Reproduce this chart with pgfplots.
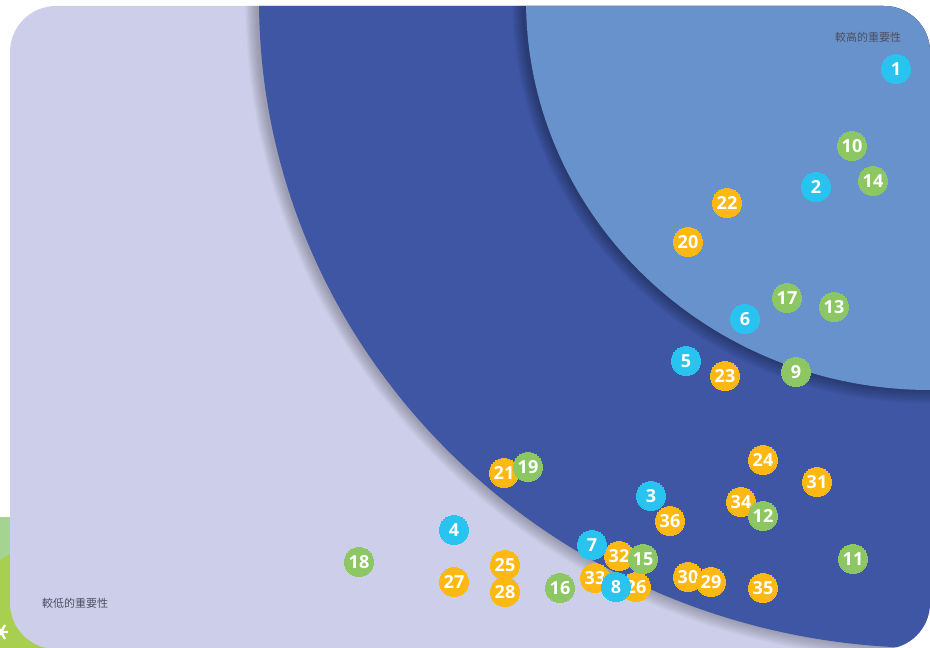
\documentclass[border=0pt]{standalone}
\usepackage{pgfplots}
\pgfplotsset{compat=1.18}
\usepackage{fontspec}
\setmainfont{Open Sans}
\newfontfamily\cjk{Noto Sans CJK TC}
\newfontfamily\numfam{Open Sans}

\definecolor{lav}{HTML}{CDCEE9}
\definecolor{darkblue}{HTML}{3E56A4}
\definecolor{lightblue}{HTML}{6892CB}
\definecolor{cyanpt}{HTML}{29C3F0}
\definecolor{greenpt}{HTML}{8DC764}
\definecolor{orangept}{HTML}{FDB814}
\definecolor{palegreen}{HTML}{A5D490}
\definecolor{ygreen}{HTML}{A9CF50}
\definecolor{labelgray}{HTML}{4D4F63}

\pgfplotsset{
  bubble/.style={only marks, scatter, mark=*, mark size=14.5pt,
    mark options={draw=#1, fill=#1, line width=0pt},
    point meta=explicit symbolic,
    scatter/@pre marker code/.code={\pgfsetstrokecolor{#1}\pgfsetfillcolor{#1}},
    scatter/@post marker code/.code={%
      \node[text=white, inner sep=0pt,
        font=\numfam\bfseries\fontsize{18}{18}\selectfont] at (0,0) {\pgfplotspointmeta};},
  },
}

\begin{document}
\begin{tikzpicture}[x=1pt, y=1pt]
\useasboundingbox (0,0) rectangle (930,648);
\clip (0,0) rectangle (930,648);
% green decoration outside the panel (bottom left)
\fill[palegreen] (0,0) rectangle (60,131);
\fill[ygreen] (150,-152) circle[radius=283];
\draw[white, line width=2.2pt] (-6,16) -- (8,16) (-3,9) -- (5,23) (-3,23) -- (5,9);
% panel
\fill[lav, rounded corners=46pt] (10,-1) rectangle (930,642);
\begin{scope}
  \clip[rounded corners=46pt] (10,-1) rectangle (930,642);
  % shadow of the outer band
  \foreach \i in {1,...,9}
    \fill[black, opacity=0.028] (928,649) ellipse[x radius={671+1.3*\i}, y radius={648+1.5*\i}];
  \fill[darkblue] (930,648) ellipse[x radius=671, y radius=648];
  % shadow of the inner band
  \foreach \i in {1,...,9}
    \fill[black, opacity=0.035] (928,649) ellipse[x radius={404+1.3*\i}, y radius={390+1.6*\i}];
  \fill[lightblue] (930,648) ellipse[x radius=404, y radius=390];
\end{scope}
\node[text=labelgray, font=\cjk\fontsize{11}{11}\selectfont] at (868,611) {較高的重要性};
\node[text=labelgray, font=\cjk\fontsize{11}{11}\selectfont] at (75,45) {較低的重要性};

\begin{axis}[at={(0,0)}, anchor=south west, width=930pt, height=648pt,
  scale only axis, xmin=0, xmax=930, ymin=0, ymax=648, y dir=reverse,
  hide axis, clip=false]
% orange
\addplot[bubble=orangept] coordinates {
  (670,521) [36] (763,588) [35] (741,502) [34] (595,578) [33]
  (619,556) [32] (817,482) [31] (688,577) [30] (711,582) [29]
  (505,592) [28] (454,582) [27] (636,587) [26] (505,565) [25]
  (763,460) [24] (725,376) [23] (727,203) [22] (504,473) [21]
  (688,242) [20]
};
% green
\addplot[bubble=greenpt] coordinates {
  (528,467) [19] (359,562) [18] (787,298) [17] (560,588) [16]
  (643,559) [15] (873,181) [14] (834,307) [13] (763,516) [12]
  (853,559) [11] (852,146) [10] (796,372) [9]
};
% blue
\addplot[bubble=cyanpt] coordinates {
  (616,587) [8] (592,545) [7] (745,319) [6] (686,361) [5]
  (454,530) [4] (651,496) [3] (816,187) [2] (896,69) [1]
};
\end{axis}
\end{tikzpicture}
\end{document}
